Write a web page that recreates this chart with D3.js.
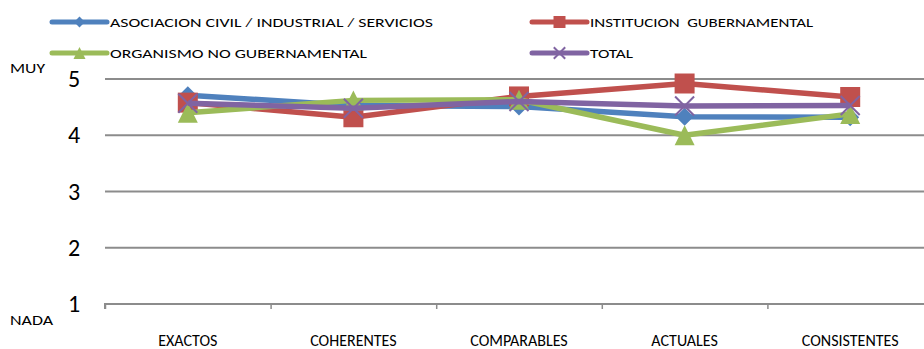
<!DOCTYPE html>
<html>
<head>
<meta charset="utf-8">
<script src="https://cdn.jsdelivr.net/npm/d3@7"></script>
<style>
  body { margin: 0; background: #fff; }
  svg text { font-family: "Carlito", "Lato", sans-serif; fill: #000; }
</style>
</head>
<body>
<svg id="chart" width="924" height="349"></svg>
<script>
// categories and series
var categories = ["EXACTOS", "COHERENTES", "COMPARABLES", "ACTUALES", "CONSISTENTES"];
var asociacion = [4.71, 4.53, 4.51, 4.33, 4.32];
var institucion = [4.58, 4.32, 4.69, 4.92, 4.68];
var organismo = [4.40, 4.62, 4.63, 4.00, 4.38];
var total = [4.57, 4.48, 4.60, 4.52, 4.53];
var yTicks = [1, 2, 3, 4, 5];

var series = [
  { name: "ASOCIACION CIVIL / INDUSTRIAL / SERVICIOS", values: asociacion, color: "#4F81BD", symbol: "diamond" },
  { name: "INSTITUCION  GUBERNAMENTAL", values: institucion, color: "#C0504D", symbol: "square" },
  { name: "ORGANISMO NO GUBERNAMENTAL", values: organismo, color: "#9BBB59", symbol: "triangle" },
  { name: "TOTAL", values: total, color: "#8064A2", symbol: "x" }
];

var svg = d3.select("#chart");

var x = d3.scaleBand().domain(categories).range([105, 933]);
var y = d3.scaleLinear().domain([1, 5]).range([304, 79]);

// gridlines
svg.append("g")
  .selectAll("line")
  .data(yTicks.filter(function(d) { return d > 1; }))
  .enter().append("line")
  .attr("x1", 105).attr("x2", 933)
  .attr("y1", function(d) { return y(d); })
  .attr("y2", function(d) { return y(d); })
  .attr("stroke", "#8c8c8c").attr("stroke-width", 2);

// y labels
svg.append("g")
  .selectAll("text")
  .data(yTicks)
  .enter().append("text")
  .attr("x", 74)
  .attr("y", function(d) { return y(d) + 8; })
  .attr("text-anchor", "middle")
  .style("font-size", "24px")
  .text(function(d) { return d; });

svg.append("text").attr("x", 10).attr("y", 73).style("font-size", "15px")
  .attr("textLength", 35).attr("lengthAdjust", "spacingAndGlyphs").text("MUY");
svg.append("text").attr("x", 10).attr("y", 325).style("font-size", "15px")
  .attr("textLength", 43).attr("lengthAdjust", "spacingAndGlyphs").text("NADA");

// x axis
var xAxis = d3.axisBottom(d3.scaleLinear().domain([0, 5]).range([105, 933]))
  .ticks(5).tickSize(5).tickFormat("");
var ax = svg.append("g").attr("transform", "translate(0,304)").call(xAxis);
ax.select(".domain").attr("stroke", "#8c8c8c").attr("stroke-width", 2).attr("d", "M105,5V0H933");
ax.selectAll(".tick line").attr("stroke", "#8c8c8c").attr("stroke-width", 1.5);

svg.append("g")
  .selectAll("text")
  .data(categories)
  .enter().append("text")
  .attr("x", function(d) { return x(d) + x.bandwidth() / 2; })
  .attr("y", 346)
  .attr("text-anchor", "middle")
  .style("font-size", "16px")
  .text(function(d) { return d; });

// marker shapes, r = half width
function markerPath(kind, r) {
  if (kind === "diamond") return "M0," + (-r) + "L" + r + ",0L0," + r + "L" + (-r) + ",0Z";
  if (kind === "square") return "M" + (-r) + "," + (-r) + "H" + r + "V" + r + "H" + (-r) + "Z";
  if (kind === "triangle") return "M0," + (-r) + "L" + r + "," + r + "H" + (-r) + "Z";
  return "M" + (-r) + "," + (-r) + "L" + r + "," + r + "M" + r + "," + (-r) + "L" + (-r) + "," + r;
}
var markerR = { diamond: 9, square: 10, triangle: 10, x: 9.5 };

function drawMarker(g, s, k) {
  var p = g.append("path").attr("d", markerPath(s.symbol, markerR[s.symbol] * k));
  if (s.symbol === "x") {
    p.attr("fill", "none").attr("stroke", s.color).attr("stroke-width", 2);
  } else {
    p.attr("fill", s.color);
  }
  return p;
}

var line = d3.line()
  .x(function(d, i) { return x(categories[i]) + x.bandwidth() / 2; })
  .y(function(d) { return y(d); });

series.forEach(function(s) {
  svg.append("path")
    .datum(s.values)
    .attr("d", line)
    .attr("fill", "none")
    .attr("stroke", s.color)
    .attr("stroke-width", 5.5)
    .attr("stroke-linejoin", "round");
  s.values.forEach(function(v, i) {
    var g = svg.append("g")
      .attr("transform", "translate(" + (x(categories[i]) + x.bandwidth() / 2) + "," + y(v) + ")");
    drawMarker(g, s, 1);
  });
});

// legend
var legendPos = [[52, 22], [532, 22], [52, 53], [532, 53]];
var legendWidths = [323, 223, 257, 43];
series.forEach(function(s, i) {
  var g = svg.append("g").attr("transform", "translate(" + legendPos[i][0] + "," + legendPos[i][1] + ")");
  g.append("line").attr("x1", 0).attr("x2", 55).attr("y1", 0).attr("y2", 0)
    .attr("stroke", s.color).attr("stroke-width", 5).attr("stroke-linecap", "round");
  var m = g.append("g").attr("transform", "translate(27.5,0)");
  drawMarker(m, s, 0.6);
  g.append("text").attr("x", 58).attr("y", 5).style("font-size", "13px")
    .attr("textLength", legendWidths[i]).attr("lengthAdjust", "spacingAndGlyphs")
    .style("white-space", "pre").text(s.name);
});
</script>
</body>
</html>
